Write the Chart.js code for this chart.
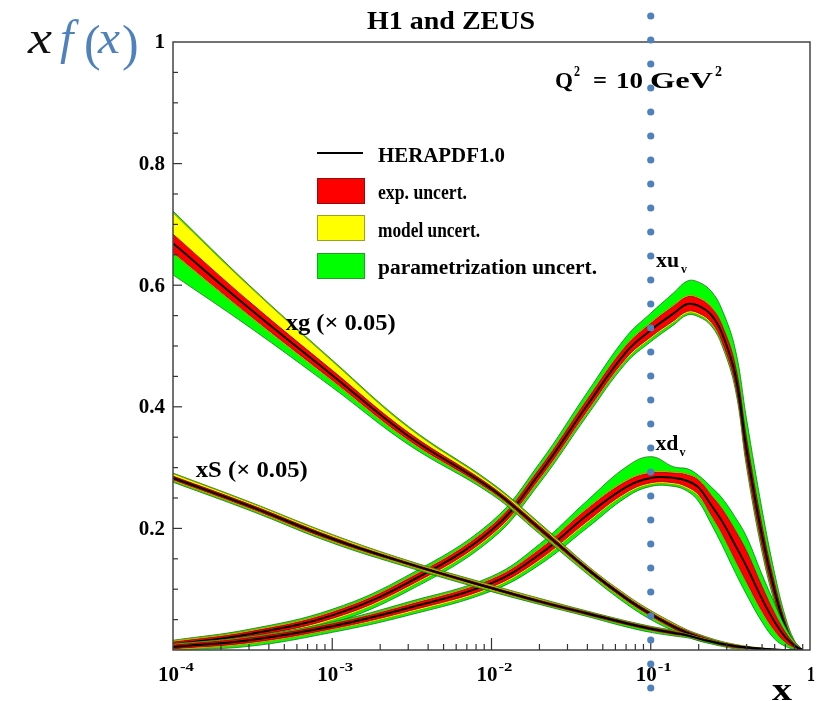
<!DOCTYPE html>
<html>
<head>
<meta charset="utf-8">
<script src="https://cdn.jsdelivr.net/npm/chart.js@4.4.0/dist/chart.umd.min.js"></script>
<style>
  html, body { margin: 0; padding: 0; background: #fff; }
</style>
</head>
<body>
<canvas id="myChart" width="834" height="701"></canvas>
<script>
// x-Stützstellen (gemeinsam fuer alle Kurven)
const xGrid = [1e-4, 3e-4, 1e-3, 3e-3, 1e-2, 2e-2, 4e-2, 7e-2, 0.1, 0.14, 0.17, 0.2, 0.24, 0.28, 0.34, 0.4, 0.5, 0.6, 0.7, 0.8, 0.9];

// xu_v: Zentralwert und Unsicherheiten (exp. symmetrisch, Modell, Parametrisierung)
const xuCentral = [0.009, 0.026, 0.057, 0.111, 0.197, 0.290, 0.403, 0.490, 0.526, 0.554, 0.569, 0.566, 0.551, 0.521, 0.452, 0.329, 0.188, 0.097, 0.038, 0.008, 0.000];
const xuExp     = [0.004, 0.004, 0.005, 0.006, 0.007, 0.008, 0.009, 0.010, 0.011, 0.012, 0.012, 0.012, 0.012, 0.013, 0.015, 0.018, 0.016, 0.012, 0.008, 0.003, 0];
const xuModUp   = [0.002, 0.002, 0.002, 0.002, 0.002, 0.002, 0.002, 0.002, 0.002, 0.002, 0.002, 0.002, 0.002, 0.002, 0.002, 0.002, 0.002, 0.002, 0.001, 0.001, 0];
const xuModDn   = [0.003, 0.003, 0.003, 0.003, 0.003, 0.003, 0.003, 0.003, 0.003, 0.003, 0.003, 0.003, 0.003, 0.003, 0.003, 0.003, 0.003, 0.002, 0.001, 0.001, 0];
const xuParUp   = [0.001, 0.002, 0.003, 0.004, 0.005, 0.007, 0.010, 0.013, 0.015, 0.020, 0.024, 0.025, 0.025, 0.024, 0.025, 0.030, 0.025, 0.015, 0.008, 0.003, 0];
const xuParDn   = [0.004, 0.005, 0.005, 0.005, 0.005, 0.005, 0.005, 0.005, 0.005, 0.004, 0.003, 0.003, 0.003, 0.004, 0.006, 0.008, 0.008, 0.006, 0.004, 0.002, 0];

// xd_v
const xdCentral = [0.005, 0.016, 0.039, 0.069, 0.110, 0.157, 0.222, 0.268, 0.283, 0.283, 0.278, 0.267, 0.238, 0.212, 0.172, 0.137, 0.084, 0.046, 0.021, 0.007, 0.000];
const xdExp     = [0.003, 0.004, 0.004, 0.005, 0.006, 0.008, 0.010, 0.009, 0.008, 0.008, 0.010, 0.012, 0.016, 0.020, 0.024, 0.025, 0.020, 0.014, 0.008, 0.003, 0];
const xdModUp   = [0.001, 0.001, 0.001, 0.002, 0.002, 0.002, 0.002, 0.002, 0.002, 0.002, 0.002, 0.002, 0.002, 0.002, 0.002, 0.002, 0.002, 0.002, 0.001, 0.001, 0];
const xdModDn   = [0.002, 0.002, 0.002, 0.003, 0.003, 0.003, 0.003, 0.003, 0.003, 0.003, 0.003, 0.003, 0.003, 0.003, 0.003, 0.003, 0.003, 0.002, 0.001, 0.001, 0];
const xdParUp   = [0.001, 0.001, 0.002, 0.003, 0.003, 0.007, 0.012, 0.022, 0.025, 0.008, 0.008, 0.006, 0.012, 0.016, 0.020, 0.022, 0.018, 0.014, 0.008, 0.003, 0];
const xdParDn   = [0.004, 0.004, 0.004, 0.004, 0.004, 0.006, 0.008, 0.005, 0.003, 0.003, 0.004, 0.008, 0.012, 0.016, 0.018, 0.018, 0.015, 0.012, 0.006, 0.002, 0];

// xg (x 0.05)
const xgCentral = [0.669, 0.5625, 0.452, 0.352, 0.265, 0.200, 0.133, 0.085, 0.059, 0.038, 0.028, 0.021, 0.015, 0.010, 0.006, 0.004, 0.002, 0.001, 0, 0, 0];
const xgExp     = [0.015, 0.011, 0.008, 0.006, 0.004, 0.004, 0.003, 0.003, 0.003, 0.003, 0.003, 0.003, 0.002, 0.002, 0.002, 0.001, 0.001, 0, 0, 0, 0];
const xgModUp   = [0.035, 0.025, 0.015, 0.008, 0.004, 0.003, 0.002, 0.002, 0.002, 0.002, 0.001, 0.001, 0.001, 0.001, 0.001, 0.001, 0, 0, 0, 0, 0];
const xgModDn   = [0.002, 0.002, 0.002, 0.002, 0.002, 0.002, 0.002, 0.002, 0.002, 0.001, 0.001, 0.001, 0.001, 0.001, 0.001, 0, 0, 0, 0, 0, 0];
const xgParUp   = [0.003, 0.002, 0.002, 0.002, 0.002, 0.002, 0.001, 0.001, 0.001, 0.001, 0.001, 0.001, 0.001, 0.001, 0, 0, 0, 0, 0, 0, 0];
const xgParDn   = [0.035, 0.018, 0.010, 0.006, 0.003, 0.003, 0.003, 0.004, 0.004, 0.003, 0.002, 0.002, 0.002, 0.001, 0.001, 0.001, 0, 0, 0, 0, 0];

// xS (x 0.05)
const xsCentral = [0.283, 0.237, 0.183, 0.142, 0.102, 0.080, 0.060, 0.044, 0.035, 0.028, 0.024, 0.019, 0.014, 0.010, 0.006, 0.004, 0.001, 0, 0, 0, 0];
const xsExp     = [0.003, 0.003, 0.003, 0.002, 0.002, 0.002, 0.002, 0.002, 0.002, 0.002, 0.001, 0.001, 0.001, 0.001, 0.001, 0, 0, 0, 0, 0, 0];
const xsModUp   = [0.004, 0.003, 0.003, 0.002, 0.002, 0.002, 0.001, 0.001, 0.001, 0.001, 0.001, 0.001, 0.001, 0, 0, 0, 0, 0, 0, 0, 0];
const xsModDn   = [0.002, 0.002, 0.002, 0.002, 0.002, 0.001, 0.001, 0.001, 0.001, 0.001, 0.001, 0.001, 0, 0, 0, 0, 0, 0, 0, 0, 0];
const xsParUp   = [0.001, 0.001, 0.001, 0.001, 0.001, 0.001, 0.001, 0.001, 0.001, 0.001, 0, 0, 0, 0, 0, 0, 0, 0, 0, 0, 0];
const xsParDn   = [0.002, 0.002, 0.002, 0.002, 0.002, 0.002, 0.002, 0.003, 0.003, 0.002, 0.002, 0.001, 0.001, 0.001, 0, 0, 0, 0, 0, 0, 0];

// Achsenbeschriftung
const yTickValues = [0.2, 0.4, 0.6, 0.8, 1];
const yTickLabels = ['0.2', '0.4', '0.6', '0.8', '1'];
const xTickValues = [1e-4, 1e-3, 1e-2, 1e-1, 1];
const xTickLabels = [['10', '-4'], ['10', '-3'], ['10', '-2'], ['10', '-1'], ['1', '']];
const legendLabels = ['HERAPDF1.0', 'exp. uncert.', 'model uncert.', 'parametrization uncert.'];

const SERIF = '"Liberation Serif", "Times New Roman", serif';
const BLUE = '#4f81bd';

const datasets = [];
const pts = arr => xGrid.map((x, i) => ({ x: x, y: Math.max(0, arr[i]) }));

function addBand(lo, hi, color, edge, order) {
    datasets.push({ data: pts(lo), borderColor: edge, borderWidth: 0.8, pointRadius: 0, fill: false, order: order });
    datasets.push({ data: pts(hi), borderColor: edge, borderWidth: 0.8, backgroundColor: color, pointRadius: 0, fill: '-1', order: order });
}

function addCurve(c, exp, modUp, modDn, parUp, parDn, base) {
    const redHi = c.map((v, i) => v + exp[i]);
    const redLo = c.map((v, i) => v - exp[i]);
    const yelHi = redHi.map((v, i) => v + modUp[i]);
    const yelLo = redLo.map((v, i) => v - modDn[i]);
    const grnHi = yelHi.map((v, i) => v + parUp[i]);
    const grnLo = yelLo.map((v, i) => v - parDn[i]);
    addBand(grnLo, grnHi, '#00ff00', '#1f6f1f', base + 3);
    addBand(yelLo, yelHi, '#ffff00', '#8f8f00', base + 2);
    addBand(redLo, redHi, '#ff0000', '#7a0000', base + 1);
    datasets.push({ data: pts(c), borderColor: '#000', borderWidth: 2, pointRadius: 0, fill: false, order: base });
}

addCurve(xuCentral, xuExp, xuModUp, xuModDn, xuParUp, xuParDn, 30);
addCurve(xdCentral, xdExp, xdModUp, xdModDn, xdParUp, xdParDn, 20);
addCurve(xgCentral, xgExp, xgModUp, xgModDn, xgParUp, xgParDn, 10);
addCurve(xsCentral, xsExp, xsModUp, xsModDn, xsParUp, xsParDn, 0);

// Text auf Zielbreite strecken (width = null: natuerliche Breite)
function fitText(ctx, str, x, y, size, width, style, color) {
    ctx.save();
    ctx.font = (style || 'bold') + ' ' + size + 'px ' + SERIF;
    ctx.fillStyle = color || '#000';
    ctx.textAlign = 'left';
    ctx.textBaseline = 'alphabetic';
    const w = ctx.measureText(str).width;
    ctx.translate(x, y);
    if (width) ctx.scale(width / w, 1);
    ctx.fillText(str, 0, 0);
    ctx.restore();
}

const decoration = {
    id: 'decoration',
    afterDraw(chart) {
        const ctx = chart.ctx;
        const xs = chart.scales.x, ys = chart.scales.y;
        const a = chart.chartArea;

        // Rahmen
        ctx.save();
        ctx.strokeStyle = '#444';
        ctx.lineWidth = 1.5;
        ctx.strokeRect(a.left, a.top, a.right - a.left, a.bottom - a.top);

        // y-Ticks nach innen
        ctx.lineWidth = 1.2;
        ctx.strokeStyle = '#333';
        for (let k = 1; k < 20; k++) {
            const v = k * 0.05;
            const py = ys.getPixelForValue(v);
            const len = (k % 4 === 0) ? 9 : 5;
            ctx.beginPath(); ctx.moveTo(a.left, py); ctx.lineTo(a.left + len, py); ctx.stroke();
        }
        // x-Ticks (log)
        for (let d = -4; d < 0; d++) {
            for (let m = 1; m < 10; m++) {
                const v = m * Math.pow(10, d);
                const px = xs.getPixelForValue(v);
                const len = (m === 1) ? 12 : 6;
                if (m === 1 && d === -4) continue;
                ctx.beginPath(); ctx.moveTo(px, a.bottom); ctx.lineTo(px, a.bottom - len); ctx.stroke();
            }
        }
        ctx.restore();

        // y-Beschriftung
        ctx.save();
        ctx.font = 'bold 21px ' + SERIF;
        ctx.fillStyle = '#000';
        ctx.textAlign = 'right';
        ctx.textBaseline = 'middle';
        yTickValues.forEach((v, i) => ctx.fillText(yTickLabels[i], a.left - 8, ys.getPixelForValue(v) + 1));
        ctx.restore();

        // x-Beschriftung
        xTickValues.forEach((v, i) => {
            const px = xs.getPixelForValue(v);
            const [base, exp] = xTickLabels[i];
            if (exp) {
                fitText(ctx, base, px - 15, 681, 20, 21);
                fitText(ctx, exp, px + 7, 671, 13, 14);
            } else {
                fitText(ctx, base, px - 3, 681, 20, 8);
            }
        });

        // Achsentitel
        fitText(ctx, 'x', 772, 700, 32, 20);
        fitText(ctx, 'x', 28, 53, 46, 24, 'italic', '#111');
        fitText(ctx, 'f', 60, 54, 48, null, 'italic', BLUE);
        fitText(ctx, '(', 84, 60, 50, null, 'normal', BLUE);
        fitText(ctx, 'x', 98, 53, 46, 22, 'italic', BLUE);
        fitText(ctx, ')', 122, 60, 50, null, 'normal', BLUE);

        // Titel
        fitText(ctx, 'H1 and ZEUS', 367, 29, 25, 168);
        // Q^2 = 10 GeV^2
        fitText(ctx, 'Q', 555, 88, 24, 18);
        fitText(ctx, '2', 574, 76, 14, 6);
        fitText(ctx, '=', 593, 88, 24, 14);
        fitText(ctx, '10', 616, 88, 24, 27);
        fitText(ctx, 'GeV', 650, 88, 24, 63);
        fitText(ctx, '2', 715, 76, 14, 7);

        // Kurvenbeschriftungen an Datenkoordinaten
        const lx = v => xs.getPixelForValue(v), ly = v => ys.getPixelForValue(v);
        fitText(ctx, 'xg (\u00d7 0.05)', lx(5.1e-4), ly(0.526), 23, 110);
        fitText(ctx, 'xS (\u00d7 0.05)', lx(1.39e-4), ly(0.285), 23, 112);
        fitText(ctx, 'xu', lx(0.108), ly(0.630), 22, 23);
        fitText(ctx, 'v', lx(0.108) + 25, ly(0.620), 13, 6);
        fitText(ctx, 'xd', lx(0.107), ly(0.329), 22, 23);
        fitText(ctx, 'v', lx(0.107) + 24, ly(0.319), 13, 6);

        // Legende
        ctx.save();
        ctx.strokeStyle = '#000';
        ctx.lineWidth = 2;
        ctx.beginPath(); ctx.moveTo(317, 153); ctx.lineTo(363, 153); ctx.stroke();
        const boxes = [[178, '#ff0000', '#8a1010'], [215, '#ffff00', '#a0a020'], [253, '#00ff00', '#20a020']];
        ctx.lineWidth = 1;
        boxes.forEach(([top, fill, edge]) => {
            ctx.fillStyle = fill; ctx.fillRect(317, top, 48, 26);
            ctx.strokeStyle = edge; ctx.strokeRect(317.5, top + 0.5, 47, 25);
        });
        ctx.restore();
        const lw = [127, 89, 102, 219], lb = [162, 199, 237, 274];
        legendLabels.forEach((t, i) => fitText(ctx, t, 378, lb[i], 20, lw[i]));

        // blaue gepunktete Linie bei x = 0.1
        ctx.save();
        ctx.fillStyle = BLUE;
        const px = xs.getPixelForValue(0.1);
        for (let y = 16; y <= 692; y += 24) {
            ctx.beginPath(); ctx.arc(px, y, 3.6, 0, Math.PI * 2); ctx.fill();
        }
        ctx.restore();
    }
};

const ctx = document.getElementById('myChart').getContext('2d');
new Chart(ctx, {
    type: 'line',
    data: { datasets: datasets },
    options: {
        responsive: false,
        animation: false,
        events: [],
        layout: { padding: { left: 173, right: 24, top: 42, bottom: 51 } },
        elements: { line: { tension: 0.4, cubicInterpolationMode: 'default' } },
        plugins: { legend: { display: false }, tooltip: { enabled: false } },
        scales: {
            x: { type: 'logarithmic', min: 1e-4, max: 1, display: false },
            y: { type: 'linear', min: 0, max: 1, display: false }
        }
    },
    plugins: [decoration]
});
</script>
</body>
</html>
